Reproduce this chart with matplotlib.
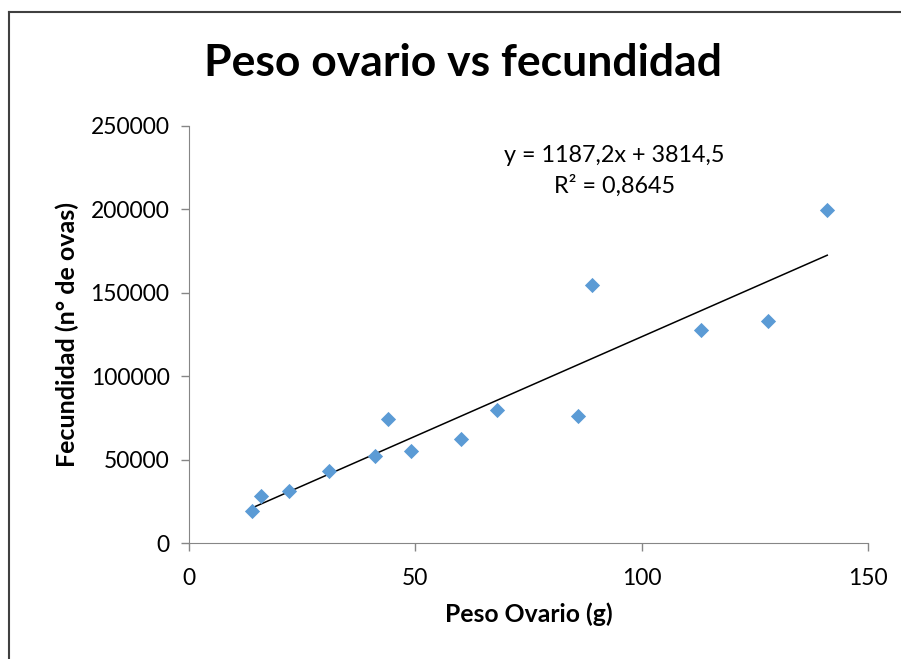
import numpy as np
import matplotlib.pyplot as plt
from matplotlib.lines import Line2D

# peso del ovario (g) y fecundidad (n de ovas)
peso = [14, 16, 22, 31, 41, 44, 49, 60, 68, 86, 89, 113, 128, 141]
fecundidad = [19400, 28200, 31400, 43300, 52200, 74500, 55300, 62200,
              79700, 76100, 154700, 127700, 133100, 199600]

x_ticks = [0, 50, 100, 150]
y_ticks = [0, 50000, 100000, 150000, 200000, 250000]

plt.rcParams['font.family'] = ['Lato', 'DejaVu Sans']

fig = plt.figure(figsize=(9.01, 6.59), dpi=100)
ax = fig.add_axes([189/901, 116/659, (868-189)/901, (543-126)/659])

ax.scatter(peso, fecundidad, marker='D', s=60, color='#5b9bd5', zorder=3, linewidths=0)

# linea de tendencia
m, b = np.polyfit(peso, fecundidad, 1)
xl = np.array([min(peso), max(peso)])
ax.plot(xl, m*xl + b, color='black', lw=1.1, zorder=2)

ax.text(0.627, 0.892, 'y = 1187,2x + 3814,5\nR² = 0,8645', transform=ax.transAxes,
        ha='center', va='center', fontsize=16.8, linespacing=1.45)

ax.set_xlim(0, 150)
ax.set_ylim(0, 250000)
ax.set_xticks(x_ticks)
ax.set_yticks(y_ticks)
ax.set_xticklabels([str(v) for v in x_ticks], fontsize=16.5)
ax.set_yticklabels([str(v) for v in y_ticks], fontsize=16.5)
ax.tick_params(axis='both', color='#868686', length=6, width=1)
ax.tick_params(axis='x', pad=12)
ax.tick_params(axis='y', pad=8)

for s in ['top', 'right']:
    ax.spines[s].set_visible(False)
for s in ['left', 'bottom']:
    ax.spines[s].set_color('#868686')

ax.set_xlabel('Peso Ovario (g)', fontsize=17.8, fontweight='bold', labelpad=10)
ax.set_ylabel('Fecundidad (n° de ovas)', fontsize=18, fontweight='bold', labelpad=8)

fig.text(0.514, 0.904, 'Peso ovario vs fecundidad', ha='center', va='center',
         fontsize=32, fontweight='bold')

# marco del grafico
fig.add_artist(Line2D([9/901, 9/901], [0, 1 - 12/659], color='#404040', lw=1.5))
fig.add_artist(Line2D([9/901, 1], [1 - 12/659, 1 - 12/659], color='#404040', lw=1.5))

fig.savefig('out.png', dpi=100)
